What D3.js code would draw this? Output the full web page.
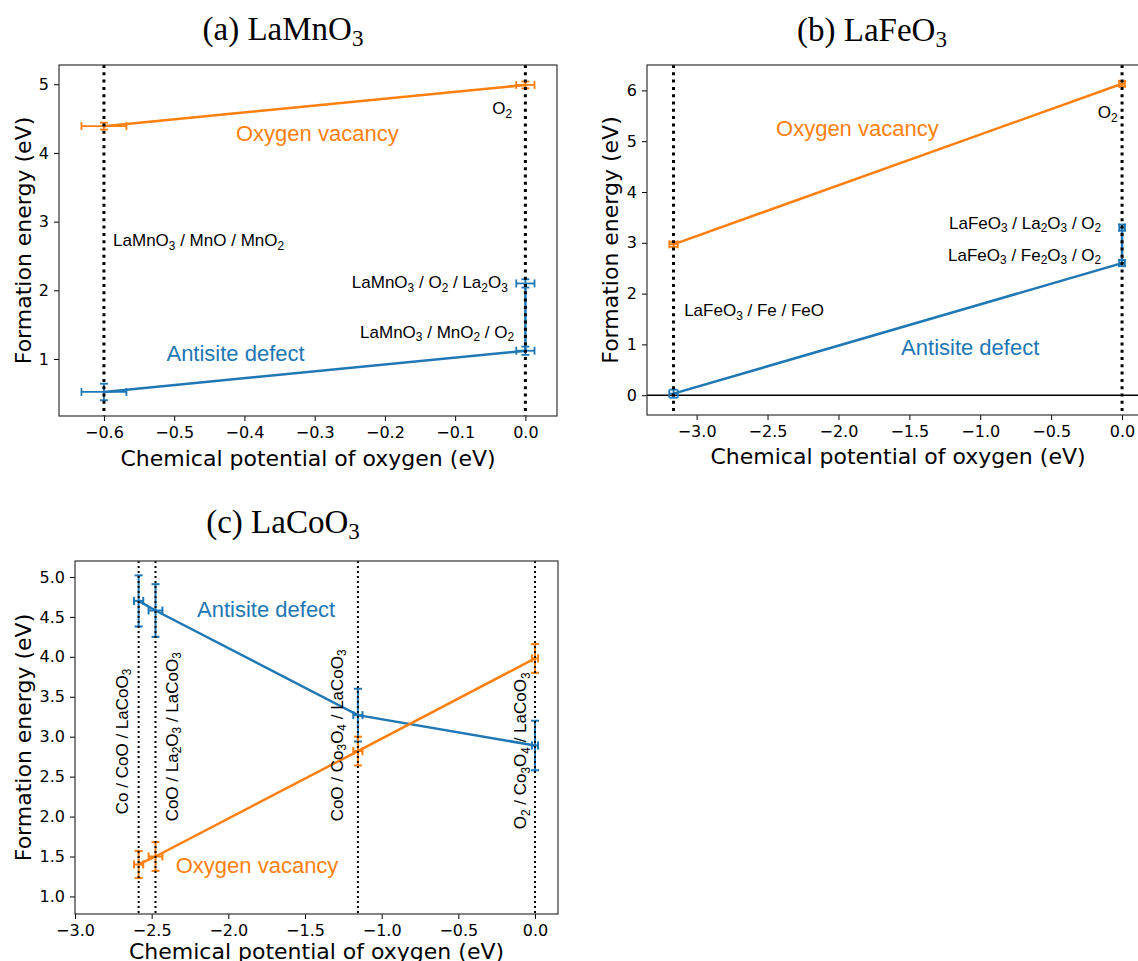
<!DOCTYPE html>
<html>
  <head>
    <meta charset="utf-8">
    <title>Formation energy vs oxygen chemical potential</title>
    <script src="https://d3js.org/d3.v7.min.js"></script>
    <style>
      body { margin: 0; background: #fff; }
      .tick text { font-family: "DejaVu Sans"; font-size: 16px; fill: #000; }
      .tick line { stroke: #000; stroke-width: 1; }
    </style>
  </head>
  <body>
    <div id="vis"></div>
    <script>
      var width = 1138;
      var height = 961;

      var orange = "#ff7f0e";
      var blue = "#1f77b4";

      // ---- (a) LaMnO3 ----
      var muA_vac = [-0.6, 0.0];
      var eA_vac = [4.39, 4.99];
      var xerrA_vac = [0.032, 0.013];
      var yerrA_vac = [0.05, 0.05];
      var muA_anti = [-0.6, 0.0, 0.0];
      var eA_anti = [0.52, 1.12, 2.1];
      var xerrA_anti = [0.032, 0.013, 0.013];
      var yerrA_anti = [0.12, 0.06, 0.06];
      var vlinesA = [-0.6, 0.0];
      var xticksA = [-0.6, -0.5, -0.4, -0.3, -0.2, -0.1, 0.0];
      var yticksA = [1, 2, 3, 4, 5];

      // ---- (b) LaFeO3 ----
      var muB_vac = [-3.163, 0.0];
      var eB_vac = [2.97, 6.13];
      var xerrB_vac = [0.03, 0.02];
      var yerrB_vac = [0.05, 0.05];
      var muB_anti = [-3.163, 0.0, 0.0];
      var eB_anti = [0.03, 2.6, 3.3];
      var xerrB_anti = [0.03, 0.02, 0.02];
      var yerrB_anti = [0.08, 0.06, 0.06];
      var vlinesB = [-3.163, 0.0];
      var xticksB = [-3.0, -2.5, -2.0, -1.5, -1.0, -0.5, 0.0];
      var yticksB = [0, 1, 2, 3, 4, 5, 6];

      // ---- (c) LaCoO3 ----
      var muC = [-2.585, -2.475, -1.155, 0.0];
      var eC_vac = [1.40, 1.50, 2.82, 3.98];
      var yerrC_vac = [0.17, 0.18, 0.18, 0.18];
      var eC_anti = [4.70, 4.58, 3.27, 2.89];
      var yerrC_anti = [0.32, 0.33, 0.33, 0.31];
      var xerrC = [0.03, 0.045, 0.03, 0.02];
      var vlinesC = [-2.585, -2.475, -1.155, 0.0];
      var xticksC = [-3.0, -2.5, -2.0, -1.5, -1.0, -0.5, 0.0];
      var yticksC = [1.0, 1.5, 2.0, 2.5, 3.0, 3.5, 4.0, 4.5, 5.0];

      var svg = d3.select("#vis")
        .append("svg")
        .attr("width", width)
        .attr("height", height);

      // text with _n subscripts
      function rich(sel, str, fs, shift) {
        var parts = str.split(/_(\d)/);
        var cur = 0;
        parts.forEach(function(p, i) {
          if (i % 2 == 1) {
            sel.append("tspan").attr("font-size", fs * 0.7).attr("dy", shift - cur).text(p);
            cur = shift;
          } else if (p !== "") {
            sel.append("tspan").attr("dy", -cur).text(p);
            cur = 0;
          }
        });
        return sel;
      }

      function series(g, x, y, mu, e, xerr, yerr, color, ew) {
        var pts = mu.map(function(m, i) { return [m, e[i]]; });
        g.append("path")
          .datum(pts)
          .attr("fill", "none")
          .attr("stroke", color)
          .attr("stroke-width", 2.5)
          .attr("d", d3.line().x(function(d) { return x(d[0]); }).y(function(d) { return y(d[1]); }));
        var cap = 4;
        var eb = g.append("g").attr("stroke", color).attr("stroke-width", ew);
        mu.forEach(function(m, i) {
          var cx = x(m), cy = y(e[i]);
          var y0 = y(e[i] - yerr[i]), y1 = y(e[i] + yerr[i]);
          var x0 = x(m - xerr[i]), x1 = x(m + xerr[i]);
          eb.append("line").attr("x1", cx).attr("x2", cx).attr("y1", y0).attr("y2", y1);
          eb.append("line").attr("x1", cx - cap).attr("x2", cx + cap).attr("y1", y0).attr("y2", y0);
          eb.append("line").attr("x1", cx - cap).attr("x2", cx + cap).attr("y1", y1).attr("y2", y1);
          eb.append("line").attr("x1", x0).attr("x2", x1).attr("y1", cy).attr("y2", cy);
          eb.append("line").attr("x1", x0).attr("x2", x0).attr("y1", cy - cap).attr("y2", cy + cap);
          eb.append("line").attr("x1", x1).attr("x2", x1).attr("y1", cy - cap).attr("y2", cy + cap);
        });
      }

      function panel(p) {
        var x = d3.scaleLinear().domain(p.xDom).range([p.l, p.r]);
        var y = d3.scaleLinear().domain(p.yDom).range([p.b, p.t]);
        var g = svg.append("g");

        // title
        rich(g.append("text")
          .attr("x", p.titleX).attr("y", p.titleY)
          .attr("text-anchor", "middle")
          .attr("font-family", "Liberation Serif")
          .attr("font-size", 33), p.title, 33, 6);

        // axes
        g.append("g")
          .attr("transform", "translate(0," + p.b + ")")
          .call(d3.axisBottom(x).tickValues(p.xTicks).tickFormat(d3.format(".1f")).tickSize(5).tickPadding(6))
          .call(function(a) { a.select(".domain").remove(); });
        g.append("g")
          .attr("transform", "translate(" + p.l + ",0)")
          .call(d3.axisLeft(y).tickValues(p.yTicks).tickFormat(d3.format(p.yFmt)).tickSize(5).tickPadding(5))
          .call(function(a) { a.select(".domain").remove(); });

        g.append("text")
          .attr("x", (p.l + p.r) / 2).attr("y", p.b + p.xlabDy)
          .attr("text-anchor", "middle")
          .attr("font-family", "DejaVu Sans").attr("font-size", 22)
          .text("Chemical potential of oxygen (eV)");
        g.append("text")
          .attr("transform", "translate(" + p.ylabX + "," + (p.t + p.b) / 2 + ") rotate(-90)")
          .attr("y", 8)
          .attr("text-anchor", "middle")
          .attr("font-family", "DejaVu Sans").attr("font-size", 22)
          .text("Formation energy (eV)");

        if (p.zero) {
          g.append("line")
            .attr("x1", p.l).attr("x2", p.r)
            .attr("y1", y(0)).attr("y2", y(0))
            .attr("stroke", "#000").attr("stroke-width", 1.5);
        }

        series(g, x, y, p.anti[0], p.anti[1], p.anti[2], p.anti[3], blue, p.ew);
        series(g, x, y, p.vac[0], p.vac[1], p.vac[2], p.vac[3], orange, p.ew);

        g.append("g").selectAll("line")
          .data(p.vlines)
          .enter()
          .append("line")
          .attr("x1", function(d) { return x(d); })
          .attr("x2", function(d) { return x(d); })
          .attr("y1", p.t).attr("y2", p.b)
          .attr("stroke", "#000")
          .attr("stroke-width", p.vw)
          .attr("stroke-dasharray", p.dash);

        // frame
        g.append("rect")
          .attr("x", p.l).attr("y", p.t)
          .attr("width", p.r - p.l).attr("height", p.b - p.t)
          .attr("fill", "none").attr("stroke", "#333").attr("stroke-width", 1.2);

        // annotations
        p.notes.forEach(function(n) {
          var fs = n.big ? 22 : 17;
          var t = g.append("text")
            .attr("font-family", "Liberation Sans")
            .attr("font-size", fs)
            .attr("fill", n.color || "#000")
            .attr("text-anchor", n.anchor || "start");
          if (n.rot) {
            t.attr("transform", "translate(" + x(n.x) + "," + y(n.y) + ") rotate(-90)")
              .attr("y", fs * 0.36);
          } else {
            t.attr("x", x(n.x)).attr("y", y(n.y) + fs * 0.36);
          }
          rich(t, n.text, fs, fs * 0.22);
        });
      }

      panel({
        l: 59, r: 557, t: 65, b: 416,
        xDom: [-0.664, 0.045], yDom: [0.17, 5.28],
        xTicks: xticksA, yTicks: yticksA, yFmt: "d", xlabDy: 50,
        title: "(a) LaMnO_3", titleX: 283, titleY: 40, ylabX: 23,
        vac: [muA_vac, eA_vac, xerrA_vac, yerrA_vac],
        anti: [muA_anti, eA_anti, xerrA_anti, yerrA_anti],
        vlines: vlinesA, vw: 3, dash: "3 4.3", ew: 1.8,
        notes: [
          { text: "O_2", x: -0.019, y: 4.65, anchor: "end" },
          { text: "Oxygen vacancy", x: -0.412, y: 4.29, big: true, color: orange },
          { text: "LaMnO_3 / MnO / MnO_2", x: -0.587, y: 2.73 },
          { text: "LaMnO_3 / O_2 / La_2O_3", x: -0.025, y: 2.12, anchor: "end" },
          { text: "LaMnO_3 / MnO_2 / O_2", x: -0.016, y: 1.40, anchor: "end" },
          { text: "Antisite defect", x: -0.511, y: 1.09, big: true, color: blue }
        ]
      });

      panel({
        l: 647, r: 1149, t: 65, b: 415,
        xDom: [-3.35, 0.19], yDom: [-0.39, 6.5],
        xTicks: xticksB, yTicks: yticksB, yFmt: "d", zero: true, xlabDy: 49,
        title: "(b) LaFeO_3", titleX: 872, titleY: 41, ylabX: 610,
        vac: [muB_vac, eB_vac, xerrB_vac, yerrB_vac],
        anti: [muB_anti, eB_anti, xerrB_anti, yerrB_anti],
        vlines: vlinesB, vw: 3, dash: "3 4.3", ew: 1.8,
        notes: [
          { text: "O_2", x: -0.032, y: 5.57, anchor: "end" },
          { text: "Oxygen vacancy", x: -2.44, y: 5.25, big: true, color: orange },
          { text: "LaFeO_3 / La_2O_3 / O_2", x: -0.147, y: 3.40, anchor: "end" },
          { text: "LaFeO_3 / Fe_2O_3 / O_2", x: -0.147, y: 2.77, anchor: "end" },
          { text: "LaFeO_3 / Fe / FeO", x: -3.088, y: 1.67 },
          { text: "Antisite defect", x: -1.558, y: 0.94, big: true, color: blue }
        ]
      });

      panel({
        l: 75, r: 558, t: 561, b: 914,
        xDom: [-3.0, 0.15], yDom: [0.78, 5.2],
        xTicks: xticksC, yTicks: yticksC, yFmt: ".1f", xlabDy: 45,
        title: "(c) LaCoO_3", titleX: 283, titleY: 533, ylabX: 23,
        vac: [muC, eC_vac, xerrC, yerrC_vac],
        anti: [muC, eC_anti, xerrC, yerrC_anti],
        vlines: vlinesC, vw: 2, dash: "2 3", ew: 2,
        notes: [
          { text: "Antisite defect", x: -2.204, y: 4.60, big: true, color: blue },
          { text: "Oxygen vacancy", x: -2.343, y: 1.39, big: true, color: orange },
          { text: "Co / CoO / LaCoO_3", x: -2.697, y: 2.03, rot: true },
          { text: "CoO / La_2O_3 / LaCoO_3", x: -2.371, y: 1.94, rot: true },
          { text: "CoO / Co_3O_4 / LaCoO_3", x: -1.295, y: 1.94, rot: true },
          { text: "O_2 / Co_3O_4 / LaCoO_3", x: -0.0996, y: 1.84, rot: true }
        ]
      });
    </script>
  </body>
</html>
